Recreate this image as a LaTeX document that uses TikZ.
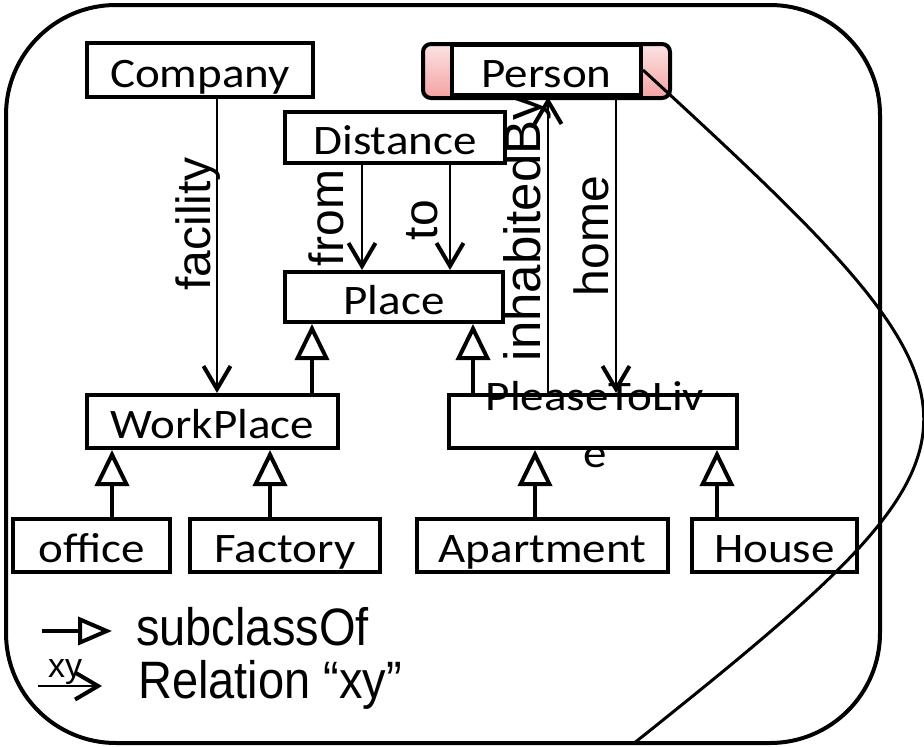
\documentclass[tikz,border=0pt]{standalone}
\usepackage{fontspec}
\usepackage{graphicx}
\setmainfont{Carlito}
\newfontfamily\labelfont{Liberation Sans}
\usetikzlibrary{arrows.meta}

\definecolor{pinktop}{HTML}{FBE3E3}
\definecolor{pinkbot}{HTML}{F4A2A2}

\newcommand\boxfont{\fontsize{42}{50}\selectfont}
\newcommand\wide[1]{\scalebox{1.12}[1]{#1}}
\newcommand\tall[1]{\scalebox{1}[1.12]{#1}}

\begin{document}
\begin{tikzpicture}[x=1pt,y=-1pt,
  classbox/.style={draw,line width=4pt,fill=white,inner sep=0pt,
    minimum height=53pt,text height=34pt,text depth=0pt,font=\boxfont},
  txt/.style={inner sep=0pt,font=\boxfont},
  lbl/.style={inner sep=0pt,anchor=base,rotate=90,
    font=\labelfont\fontsize{48}{56}\selectfont},
  rel/.style={line width=2pt,-{Straight Barb[length=23pt,width=27pt,line width=4pt]}},
  sub/.style={line width=4pt,-{Triangle[length=36pt,width=34pt,fill=white]}},
  legend/.style={inner sep=0pt,anchor=base west,
    font=\labelfont\fontsize{47}{56}\selectfont}]

\useasboundingbox (0,0) rectangle (924,747);

% outer frame
\draw[line width=4pt,rounded corners=110pt] (6,5) rectangle (880,743);

% shaded frame behind Person
\draw[line width=4pt,rounded corners=8pt,top color=pinktop,bottom color=pinkbot]
  (423,44) rectangle (670,98);

% classes
\node[classbox,minimum width=226pt,minimum height=54pt] (company) at (200,70) {\wide{Company}};
\node[classbox,minimum width=189pt,minimum height=50pt] (person) at (546.5,70) {\wide{Person}};
\node[classbox,minimum width=220pt,minimum height=51pt] (distance) at (395,137.5) {\wide{Distance}};
\node[classbox,minimum width=218pt,minimum height=50pt] (place) at (394,297) {\wide{Place}};
\node[classbox,minimum width=251pt] (workplace) at (212.5,421.5) {\wide{WorkPlace}};
\node[classbox,minimum width=288pt] (ptl) at (593,421.5) {};
\node[classbox,minimum width=157pt] (office) at (91.5,545.5) {\wide{office}};
\node[classbox,minimum width=190pt] (factory) at (285,545.5) {\wide{Factory}};
\node[classbox,minimum width=251pt] (apartment) at (542.5,545.5) {\wide{Apartment}};
\node[classbox,minimum width=165pt] (house) at (774.5,545.5) {\wide{House}};

% relations
\draw[rel] (company.south -| 217,0) -- (workplace.north -| 217,0);
\draw[rel] (distance.south -| 362,0) -- (place.north -| 362,0);
\draw[rel] (distance.south -| 450,0) -- (place.north -| 450,0);
\draw[rel] (ptl.north -| 548,0) -- (person.south -| 548,0);
\draw[rel] (person.south -| 616,0) -- (ptl.north -| 616,0);

% relation names
\node[lbl] (facility) at (210,224) {facility};
\node[lbl] (from) at (343,218) {from};
\node[lbl] (to) at (437,220) {to};
\node[lbl,font=\labelfont\fontsize{51}{60}\selectfont] (inhabited) at (540,228) {inhabitedBy};
\node[lbl] (home) at (608,236) {home};

% subclass links
\draw[sub] (workplace.north -| 312,0) -- (place.south -| 312,0);
\draw[sub] (ptl.north -| 473,0) -- (place.south -| 473,0);
\draw[sub] (office.north -| 112,0) -- (workplace.south -| 112,0);
\draw[sub] (factory.north -| 270,0) -- (workplace.south -| 270,0);
\draw[sub] (apartment.north -| 535,0) -- (ptl.south -| 535,0);
\draw[sub] (house.north -| 717,0) -- (ptl.south -| 717,0);

% class name that runs past its box
\node[txt,anchor=base] (ptlA) at (595,410) {\wide{PleaseToLiv}};
\node[txt,anchor=base] (ptlB) at (595,467) {\wide{e}};

% legend
\coordinate (subA) at (42,631);
\coordinate (subB) at (112,631);
\draw[sub,-{Triangle[length=34pt,width=28pt,fill=white]}] (subA) -- (subB);
\coordinate (relA) at (38,686);
\coordinate (relB) at (102,686);
\draw[rel] (relA) -- (relB);
\node[inner sep=0pt,anchor=base,font=\labelfont\fontsize{34}{40}\selectfont] (xy) at (65,677) {xy};
\node[legend] (lsub) at (136,645) {\tall{subclassOf}};
\node[legend] (lrel) at (138,698) {\tall{Relation “xy”}};

% long stroke from Person
\coordinate (tail) at (633,744);
\draw[line width=3pt] (person.east) .. controls (1019,415) and (1019,436) .. (tail);
\end{tikzpicture}
\end{document}
